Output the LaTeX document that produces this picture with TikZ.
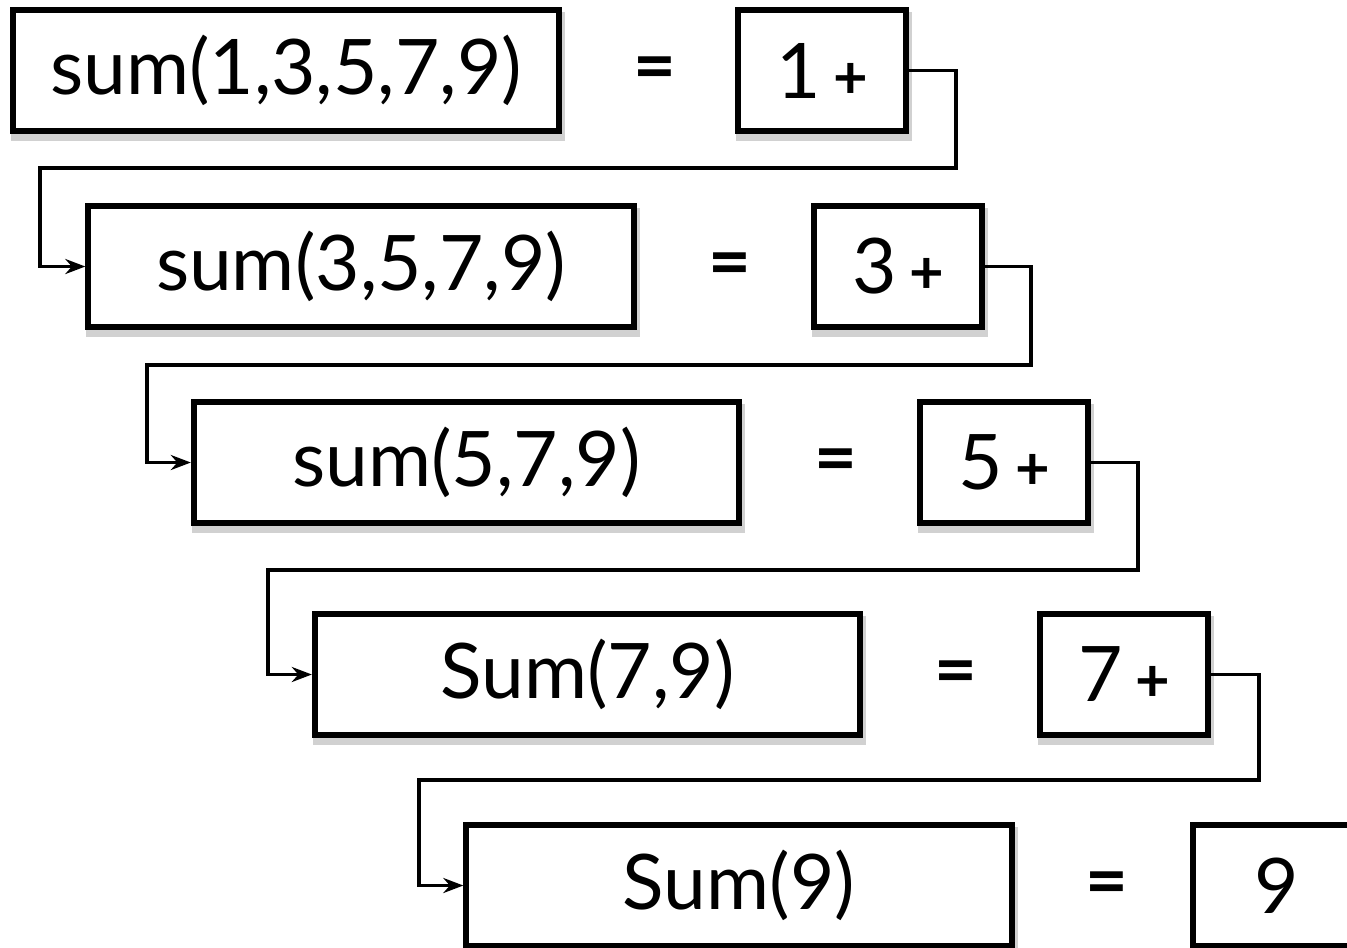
\documentclass[tikz,border=0pt]{standalone}
\usepackage{fontspec}
\setmainfont{Lato}
\usetikzlibrary{arrows.meta,positioning}

\newcommand{\plussign}{{\fontsize{17}{20}\selectfont\bfseries +}}

\begin{document}
\begin{tikzpicture}[
  x=0.01cm, y=-0.01cm,
  callbox/.style={rectangle, draw, line width=0.06cm, fill=white,
                  minimum width=5.45cm, minimum height=1.21cm, inner sep=0pt,
                  font=\fontsize{21.8}{26}\selectfont,
                  preaction={draw=black!18, line width=0.08cm,
                             transform canvas={xshift=0.02cm, yshift=-0.06cm}}},
  resbox/.style={callbox, minimum width=1.68cm},
  eqsign/.style={font=\fontsize{21}{25}\selectfont\bfseries},
  arrow/.style={-{Stealth[length=0.2cm, width=0.15cm]}, line width=0.035cm}
]
  \useasboundingbox (0,0) rectangle (1347,947);
  \clip (0,0) rectangle (1347,947);

  \node[callbox] (call1) at (286,70.5) {sum(1,3,5,7,9)};
  \node[eqsign] (eq1) at (655,74) {=};
  \node[resbox] (res1) at (822,70.5) {1\,\plussign};

  \node[callbox] (call2) at (361,266.5) {sum(3,5,7,9)};
  \node[eqsign] (eq2) at (730,270) {=};
  \node[resbox] (res2) at (898,266.5) {3\,\plussign};

  \node[callbox] (call3) at (466.5,462.5) {sum(5,7,9)};
  \node[eqsign] (eq3) at (836,466) {=};
  \node[resbox] (res3) at (1004,462.5) {5\,\plussign};

  \node[callbox] (call4) at (587.5,674.5) {Sum(7,9)};
  \node[eqsign] (eq4) at (956,678) {=};
  \node[resbox] (res4) at (1124,674.5) {7\,\plussign};

  \node[callbox] (call5) at (739,885.5) {Sum(9)};
  \node[eqsign] (eq5) at (1107,889) {=};
  \node[resbox] (res5) at (1277,885.5) {9};

  \draw[arrow] (res1.east) -- ++(47,0) |- (40,168) |- (call2.west);
  \draw[arrow] (res2.east) -- ++(46,0) |- (147,365) |- (call3.west);
  \draw[arrow] (res3.east) -- ++(47,0) |- (268,570) |- (call4.west);
  \draw[arrow] (res4.east) -- ++(48,0) |- (419,780) |- (call5.west);
\end{tikzpicture}
\end{document}
